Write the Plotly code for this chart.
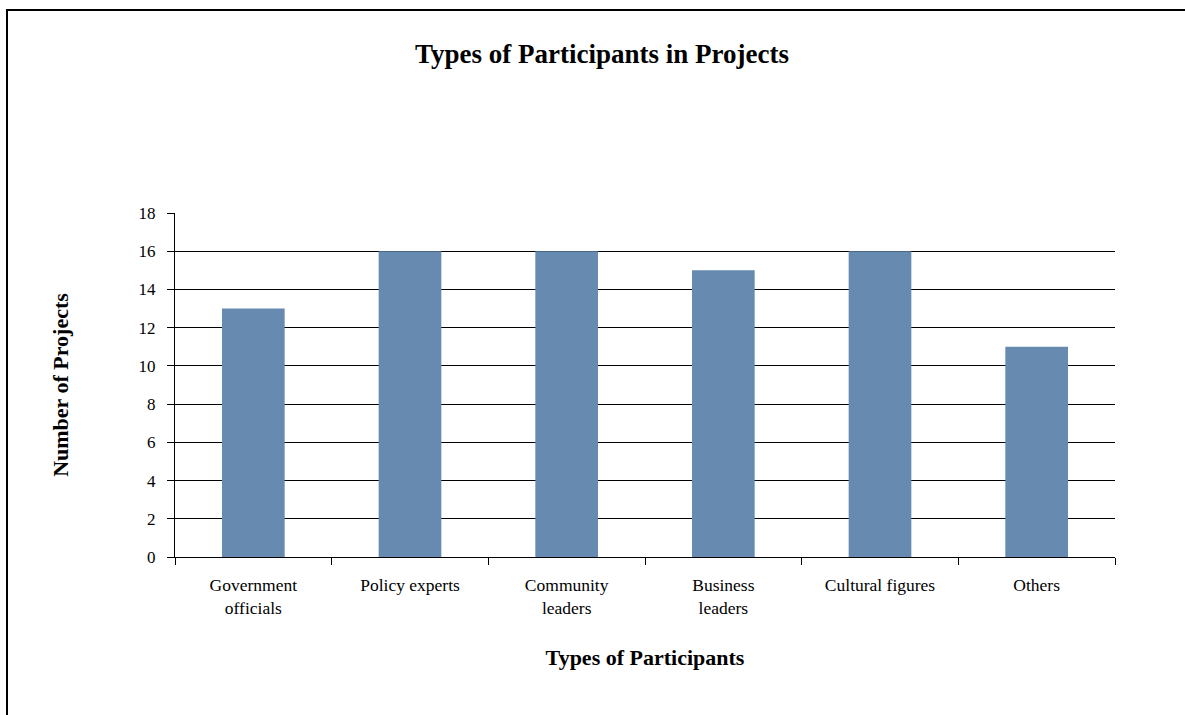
import plotly.graph_objects as go

categories = ["Government<br>officials", "Policy experts", "Community<br>leaders",
              "Business<br>leaders", "Cultural figures", "Others"]
values = [13, 16, 16, 15, 16, 11]
y_ticks = list(range(0, 19, 2))

W, H = 1185, 715
L, R, T, B = 175, 70, 213, 158
pw, ph = W - L - R, H - T - B

fig = go.Figure(go.Bar(x=categories, y=values, marker=dict(color="#668AB0", line=dict(width=0)),
                       width=0.4))

font = "Liberation Serif, Times New Roman, serif"
fig.update_layout(
    width=W, height=H,
    margin=dict(l=L, r=R, t=T, b=B),
    paper_bgcolor="white", plot_bgcolor="white",
    font=dict(family=font, size=17, color="black"),
    title=dict(text="<b>Types of Participants in Projects</b>", x=602 / W, xref="container",
               xanchor="center", y=1 - 54 / H, yanchor="middle", yref="container",
               font=dict(family=font, size=27, color="black")),
    showlegend=False,
    bargap=0.6,
)
fig.update_xaxes(
    showline=True, linecolor="black", linewidth=1,
    ticks="outside", ticklen=7, tickcolor="black", tickson="boundaries",
    ticklabelstandoff=12,
    showgrid=False,
    tickfont=dict(family=font, size=17.5),
    title=dict(text="<b>Types of Participants</b>", font=dict(family=font, size=22), standoff=32),
)
fig.update_yaxes(
    range=[0, 18], tickvals=y_ticks,
    showline=True, linecolor="black", linewidth=1,
    ticks="outside", ticklen=7, tickcolor="black", ticklabelstandoff=8,
    showgrid=True, gridcolor="black", gridwidth=1,
    zeroline=False,
    tickfont=dict(family=font, size=17),
    title=dict(text="<b>Number of Projects</b>", font=dict(family=font, size=22), standoff=63),
)
# outer chart frame
fig.add_shape(type="rect", xref="paper", yref="paper",
              x0=(7 - L) / pw, x1=(W + 20 - L) / pw,
              y0=-(H + 20 - T - ph) / ph, y1=1 + (T - 10) / ph,
              line=dict(color="black", width=2), fillcolor="rgba(0,0,0,0)", layer="below")

fig.write_html("out.html", config={"displayModeBar": False},
               post_script="document.body.style.margin='0';")
